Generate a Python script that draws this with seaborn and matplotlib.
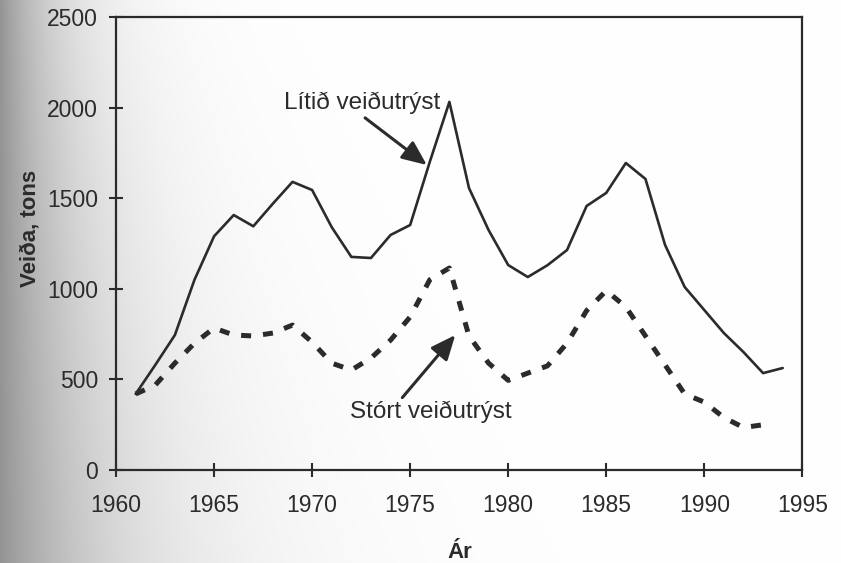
import numpy as np
import pandas as pd
import matplotlib
matplotlib.use("Agg")
import matplotlib.pyplot as plt
import seaborn as sns

# ---------------------------------
# Data
# ---------------------------------
years_small = list(range(1961, 1995))
catch_small = [420, 580, 745, 1050, 1290, 1407, 1345, 1470, 1590, 1545,
               1340, 1176, 1170, 1297, 1352, 1700, 2031, 1556, 1324, 1131,
               1065, 1130, 1214, 1457, 1529, 1694, 1606, 1242, 1010, 883,
               756, 651, 535, 563]

years_large = list(range(1961, 1994))
catch_large = [420, 469, 590, 700, 784, 745, 740, 756, 800, 706,
               590, 552, 618, 717, 845, 1050, 1115, 740, 590, 495,
               535, 575, 700, 880, 990, 900, 740, 580, 420, 375,
               290, 235, 250]

label_small = "Lítið veiðutrýst"
label_large = "Stórt veiðutrýst"

df = pd.concat([
    pd.DataFrame({"Ár": years_small, "Veiða": catch_small, "hópur": label_small}),
    pd.DataFrame({"Ár": years_large, "Veiða": catch_large, "hópur": label_large}),
])

sns.set_style("white")
plt.rcParams["font.family"] = ["Liberation Sans", "DejaVu Sans"]
ink = "#2b2b2b"

fig = plt.figure(figsize=(8.41, 5.63), dpi=100)
fig.patch.set_alpha(0)

# scanned-page shading on the left side
h, w = 563, 841
yy, xx = np.mgrid[0:h, 0:w]
spread = 60 + 60 * (yy / h)
shade = 1 - 0.42 * np.exp(-xx / spread)
bg = np.dstack([shade, shade, shade])
fig.figimage(bg, xo=0, yo=0, origin="upper", zorder=-10)

ax = fig.add_axes([0.138, 0.165, 0.816, 0.805])
ax.patch.set_alpha(0)

sns.lineplot(data=df[df["hópur"] == label_small], x="Ár", y="Veiða",
             color=ink, linewidth=1.9, ax=ax, legend=False)
sns.lineplot(data=df[df["hópur"] == label_large], x="Ár", y="Veiða",
             color=ink, linewidth=3.6, ax=ax, legend=False)
ax.lines[1].set_dashes([2.0, 2.4])
ax.lines[1].set_dash_capstyle("butt")

ax.set_xlim(1960, 1995)
ax.set_ylim(0, 2500)
ax.set_xticks(range(1960, 1996, 5))
ax.set_yticks(range(0, 2501, 500))
ax.tick_params(direction="inout", length=10, width=1.5, colors=ink,
               labelsize=16.5, left=True, bottom=True)
ax.tick_params(axis="x", pad=12)
ax.tick_params(axis="y", pad=8)
for s in ax.spines.values():
    s.set_color(ink)
    s.set_linewidth(1.6)

ax.set_xlabel("Ár", fontsize=16, fontweight="bold", color=ink)
ax.set_ylabel("Veiða, tons", fontsize=16, fontweight="bold", color=ink)
ax.xaxis.set_label_coords(0.501, -0.158)
ax.yaxis.set_label_coords(-0.11, 0.534)

arrow = dict(arrowstyle="-|>,head_length=1.5,head_width=0.65", color=ink,
             lw=2.2, shrinkA=0, shrinkB=0)
ax.text(1972.55, 2025, label_small, fontsize=17.5, color=ink, ha="center", va="center")
ax.annotate("", xy=(1975.85, 1683), xytext=(1972.7, 1943), arrowprops=arrow)
ax.text(1976.07, 320, label_large, fontsize=17.5, color=ink, ha="center", va="center")
ax.annotate("", xy=(1977.3, 745), xytext=(1974.6, 400), arrowprops=arrow)

fig.savefig("out.png", dpi=100)
plt.close(fig)
